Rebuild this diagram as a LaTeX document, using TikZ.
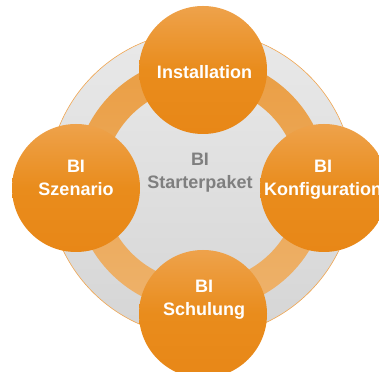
\documentclass[tikz,border=0pt]{standalone}
\usepackage{fontspec}
\setmainfont{Liberation Sans}
\usetikzlibrary{positioning}
\definecolor{orTop}{HTML}{EEA24B}
\definecolor{orMid}{HTML}{E98C1C}
\definecolor{orBot}{HTML}{E88717}
\definecolor{ringTop}{HTML}{EA9E44}
\definecolor{ringBot}{HTML}{EEB26B}
\definecolor{discTop}{HTML}{E9E9E9}
\definecolor{discBot}{HTML}{D5D5D5}
\definecolor{discLine}{HTML}{F0A550}
\definecolor{txtGray}{HTML}{7F7F7F}
\tikzset{
  bubble/.style={circle, minimum size=128pt, inner sep=0pt, top color=orTop, bottom color=orBot, middle color=orMid},
  bubbletext/.style={anchor=north, inner sep=0pt, align=center, text=white, font=\bfseries\fontsize{18}{22.5}\selectfont},
}
\begin{document}
\begin{tikzpicture}[x=1pt,y=1pt]
\useasboundingbox (0,0) rectangle (379,371);
\clip (0,0) rectangle (379,371);
%gray disc with the orange ring on it
\coordinate (c) at (201,187);
\shade[top color=discTop, bottom color=discBot] (c) circle (153);
\draw[discLine, line width=0.6pt] (c) circle (153);
\shade[even odd rule, top color=ringTop, bottom color=ringBot] (c) circle (127) (c) circle (98);
%the four steps
\node[bubble] (inst) at (203,301) {};
\node[bubble] (szen) at (76,183) {};
\node[bubble] (konf) at (324,183) {};
\node[bubble] (schu) at (203,57) {};
\node[bubbletext] (instlbl) at ([shift={(1.5,5)}]inst.center) {Installation};
\node[bubbletext] (szenlbl) at ([shift={(0,28)}]szen.center) {BI\\Szenario};
\node[bubbletext] (konflbl) at ([shift={(-1,28)}]konf.center) {BI\\Konfiguration};
\node[bubbletext] (schulbl) at ([shift={(1,34)}]schu.center) {BI\\Schulung};
%center text
\node[bubbletext, text=txtGray] (mitte) at (200,218) {BI\\Starterpaket};
\end{tikzpicture}
\end{document}
